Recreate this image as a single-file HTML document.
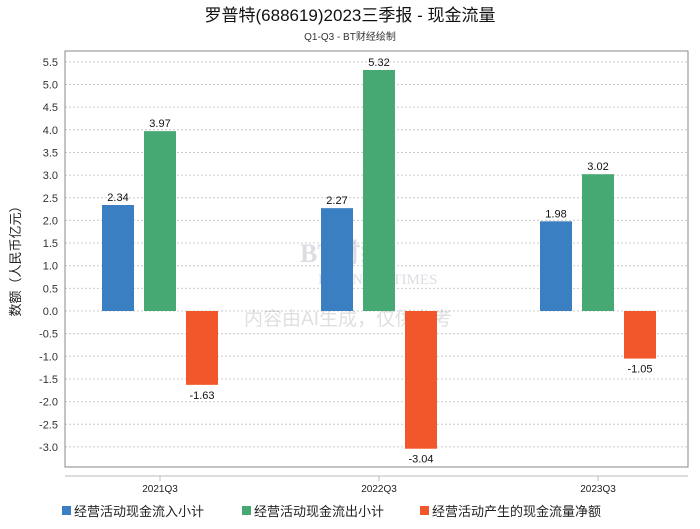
<!DOCTYPE html>
<html><head><meta charset="utf-8"><style>
body{margin:0;background:#fff;font-family:"Liberation Sans","Noto Sans CJK SC",sans-serif;}
</style></head><body>
<svg width="700" height="524" viewBox="0 0 700 524" xmlns="http://www.w3.org/2000/svg">
<text x="350" y="21" text-anchor="middle" font-size="17" fill="#111" font-family="Liberation Sans,Noto Sans CJK SC,sans-serif">罗普特(688619)2023三季报 - 现金流量</text>
<text x="350" y="40" text-anchor="middle" font-size="10" fill="#333" font-family="Liberation Sans,Noto Sans CJK SC,sans-serif">Q1-Q3 - BT财经绘制</text>
<g id="grid"></g>
<g id="yticks"></g>
<text x="20" y="258" transform="rotate(-90 20 258)" text-anchor="middle" font-size="13" fill="#222" font-family="Liberation Sans,Noto Sans CJK SC,sans-serif">数额（人民币亿元）</text>
<g opacity="0.18">
<text x="300" y="262" font-size="26" font-weight="bold" fill="#446" font-family="Liberation Serif,Noto Serif CJK SC,serif">BT财经</text>
<text x="318" y="284" font-size="15" fill="#446" font-family="Liberation Serif,serif">BUSINESS TIMES</text>
<text x="348" y="325" text-anchor="middle" font-size="19" fill="#555" font-family="Liberation Sans,Noto Sans CJK SC,sans-serif">内容由AI生成，仅供参考</text>
</g>
<g id="bars"></g>
<rect x="65" y="51" width="623" height="416" fill="none" stroke="#888" stroke-width="1"/>
<line x1="65" y1="476" x2="688" y2="476" stroke="#bbb"/>
<g id="xticks"></g>
<g id="legend"></g>
</svg>
<script>
const categories=["2021Q3","2022Q3","2023Q3"];
const inflow=[2.34,2.27,1.98];
const outflow=[3.97,5.32,3.02];
const net=[-1.63,-3.04,-1.05];
const seriesNames=["经营活动现金流入小计","经营活动现金流出小计","经营活动产生的现金流量净额"];
const colors=["#3a7fc1","#46a974","#f1572a"];
const yTicks=[-3.0,-2.5,-2.0,-1.5,-1.0,-0.5,0.0,0.5,1.0,1.5,2.0,2.5,3.0,3.5,4.0,4.5,5.0,5.5];
const NS="http://www.w3.org/2000/svg";
const y=v=>311-v*45.3;
const cx=i=>160+i*219;
function mk(t,a,p){const e=document.createElementNS(NS,t);for(const k in a)e.setAttribute(k,a[k]);p.appendChild(e);return e;}
const grid=document.getElementById('grid'),yt=document.getElementById('yticks');
yTicks.forEach(v=>{
 const l=mk('line',{x1:65,x2:688,y1:y(v),y2:y(v),stroke:'#ccc','stroke-dasharray':'2,2'},grid);
 
 
 const t=mk('text',{x:58,y:y(v)+4,'text-anchor':'end','font-size':11,fill:'#333'},yt);
 t.textContent=v.toFixed(1);
 
 
});
const bars=document.getElementById('bars');
[inflow,outflow,net].forEach((s,si)=>{
 s.forEach((v,i)=>{
  const x=cx(i)+(si-1)*42-16;
  const top=Math.min(y(v),y(0)),h=Math.abs(y(v)-y(0));
  const r=mk('rect',{x:x,y:top,width:32,height:h,fill:colors[si]},bars);
  
  
  const t=mk('text',{x:x+16,y:v>=0?top-4:top+h+14,'text-anchor':'middle','font-size':11,fill:'#111'},bars);
  t.textContent=v.toFixed(2);
  
  
 });
});
const xt=document.getElementById('xticks');
categories.forEach((c,i)=>{
 const l=mk('line',{x1:cx(i),x2:cx(i),y1:476,y2:481,stroke:'#bbb'},xt);
 
 
 const t=mk('text',{x:cx(i),y:492,'text-anchor':'middle','font-size':10,fill:'#222'},xt);
 t.textContent=c;
 
 
});
const lg=document.getElementById('legend');
const lx=[62,242,420];
seriesNames.forEach((n,i)=>{
 const g=mk('g',{},lg);
 
 
 mk('rect',{x:lx[i],y:506,width:9,height:9,fill:colors[i]},g);
 const t=mk('text',{x:lx[i]+12,y:516,'font-size':13,fill:'#222'},g);
 t.textContent=n;
});
</script>
</body></html>
